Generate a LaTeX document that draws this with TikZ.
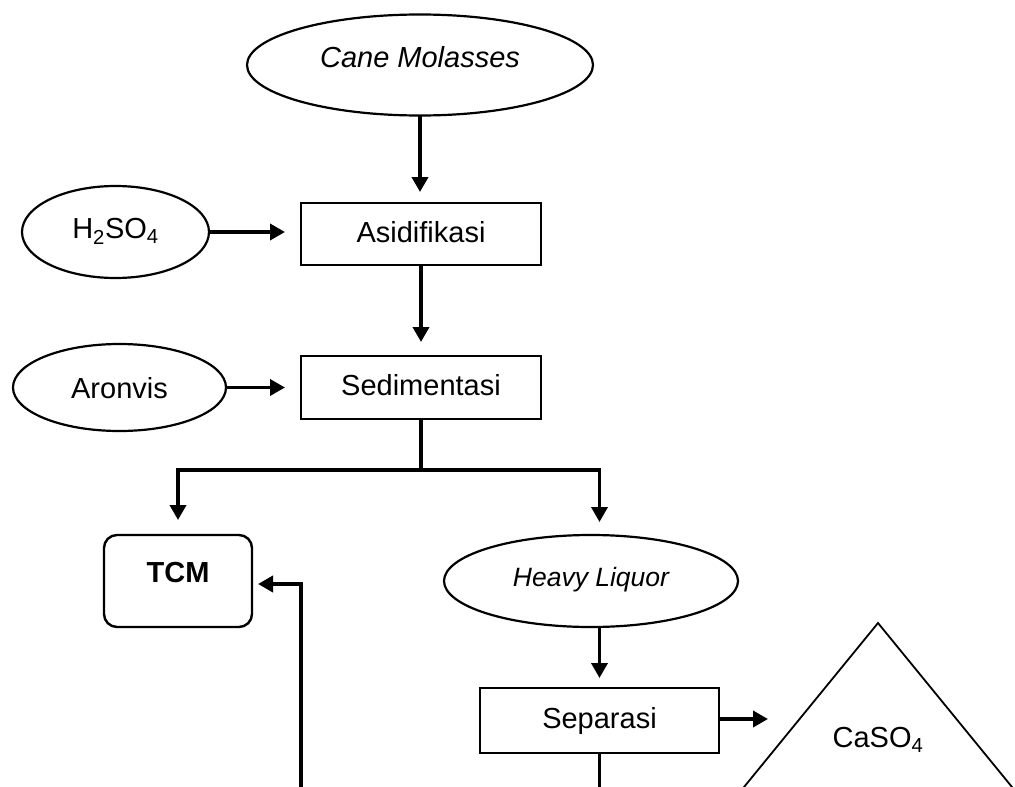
\documentclass[tikz,border=0pt]{standalone}
\usepackage{fontspec}
\setmainfont{Liberation Sans}
\usetikzlibrary{arrows.meta,calc,shapes.geometric}
\newcommand\mysize{\fontsize{29pt}{34pt}\selectfont}
\newcommand\mysmall{\fontsize{26.5pt}{31pt}\selectfont}
\begin{document}
\begin{tikzpicture}[x=1pt,y=-1pt,
  base/.style={font=\mysize, text height=21pt, text depth=0pt, inner sep=0pt, outer sep=0pt},
  ell/.style={base, draw, ellipse, line width=2.2pt},
  boxn/.style={base, draw, rectangle, line width=2.7pt, minimum width=240pt},
  conn/.style={line width=3.6pt},
  arr/.style={conn, -{Triangle[length=15pt,width=16pt]}},
]
\useasboundingbox[fill=white] (0,0) rectangle (1015,787);
\clip (0,0) rectangle (1015,787);

% nodes
\node[ell, font=\mysize\itshape, minimum width=346pt, minimum height=101pt, text depth=16pt] (cane) at (420,65) {Cane Molasses};
\node[ell, minimum width=187pt, minimum height=92pt, text depth=8pt] (acid) at (115.5,232) {H\textsubscript{2}SO\textsubscript{4}};
\node[ell, minimum width=213pt, minimum height=87pt] (aron) at (119.5,387.5) {Aronvis};
\node[boxn, minimum height=62pt, text depth=4pt] (asid) at (421,234) {Asidifikasi};
\node[boxn, minimum height=63pt, text depth=5pt] (sedi) at (421,387.5) {Sedimentasi};
\node[base, draw, rectangle, rounded corners=13pt, line width=2.4pt, font=\mysize\bfseries,
      minimum width=148pt, minimum height=92pt, text depth=18pt] (tcm) at (178,581) {TCM};
\node[ell, font=\mysmall\itshape, text height=19pt, text depth=9pt, minimum width=294pt, minimum height=92pt] (heavy) at (591,581) {Heavy Liquor};
\node[boxn, minimum width=239pt, minimum height=65pt, text depth=5pt] (sepa) at (599.5,720.5) {Separasi};
\node[base] (caso) at (878,737) {CaSO\textsubscript{4}};

% triangle (cut by the lower edge)
\coordinate (apex) at (878,623);
\draw[line width=1.8pt] (733.4,800) -- (apex) -- (1022.6,800);

% helper coordinates
\coordinate (jn) at (421,470);
\coordinate (fb) at (301,790);
\coordinate (sb) at (599.5,790);
\coordinate (catip) at (768,719);

% connectors
\draw[arr, shorten >=11pt] (cane.south) -- (cane.south |- asid.north);
\draw[arr, shorten >=16pt] (acid.east) -- (acid.east -| asid.west);
\draw[arr, shorten >=14pt] (asid.south) -- (sedi.north);
\draw[arr, shorten >=16pt] (aron.east) -- (aron.east -| sedi.west);
\draw[conn] (sedi.south) -- (jn);
\draw[arr, shorten >=15pt] (jn) -| (tcm.north);
\draw[arr, shorten >=13pt] (jn) -| (sepa.north |- heavy.north);
\draw[arr, shorten >=10pt] (sepa.north |- heavy.south) -- (sepa.north);
\draw[arr] ([yshift=1.5pt]sepa.east) -- (catip);
\draw[conn] (sepa.south) -- (sb);
\draw[arr, shorten >=6pt] (fb) |- ([yshift=-3pt]tcm.east);
\end{tikzpicture}
\end{document}
